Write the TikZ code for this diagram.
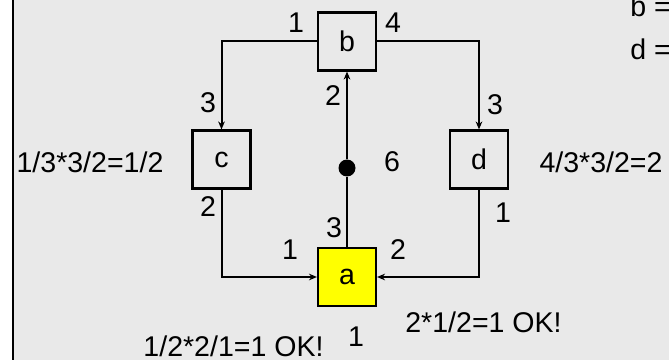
\documentclass[tikz,border=0pt]{standalone}
\usepackage{fontspec}
\setmainfont{Liberation Sans}
\usetikzlibrary{arrows.meta,positioning}
\definecolor{panel}{HTML}{E9E9E9}
\definecolor{hilite}{HTML}{FFFF00}
\begin{document}
\begin{tikzpicture}[x=0.75pt, y=-0.75pt, every node/.style={font=\fontsize{21.4pt}{24pt}\selectfont, inner sep=0pt},
      box/.style={draw=black, fill=panel, line width=1.6pt, minimum size=43.5pt},
      dot/.style={circle, fill=black, minimum size=12.75pt},
      wire/.style={line width=1.5pt},
      arr/.style={-{Stealth[length=6pt, width=5pt]}, line width=1.5pt}]
    \useasboundingbox (0,0) rectangle (669,360);
    \fill[panel] (13,0) rectangle (669,360);
    \draw[line width=2.2pt] (13,0) -- (13,360);
    \node[box] (b) at (347,41.5) {b};
    \node[box] (c) at (221.5,159.5) {c};
    \node[box] (d) at (479,159.5) {d};
    \node[box, fill=hilite] (a) at (347,277) {a};
    \node[dot] (mid) at (347,168) {};
    \draw[arr] (b) -| (c); \draw[arr] (b) -| (d); \draw[wire] (a) -- (mid); \draw[arr] (mid) -- (b);
    \draw[arr] (c) |- (a); \draw[arr] (d) |- (a);
    \node (bw) at (296,23) {1};
    \node (be) at (393,23) {4};
    \node (bs) at (333,96) {2};
    \node (cn) at (208,103) {3};
    \node (dn) at (495,105) {3};
    \node (w) at (392,162) {6};
    \node (cs) at (208,207) {2};
    \node (ds) at (503,213) {1};
    \node (an) at (334,228) {3};
    \node (aw) at (290,250) {1};
    \node (ae) at (398,250) {2};
    \node (as) at (356,337) {1};
    \node (cval) at (90,162.5) {1/3*3/2=1/2};
    \node (dval) at (601,162.5) {4/3*3/2=2};
    \node (eval) at (483.5,322) {2*1/2=1 OK!};
    \node (aval) at (233.5,346) {1/2*2/1=1 OK!};
    \node[anchor=base west] (bdef) at (630,17) {b =};
    \node[anchor=base west] (ddef) at (630,60) {d =};
  \end{tikzpicture}
\end{document}
